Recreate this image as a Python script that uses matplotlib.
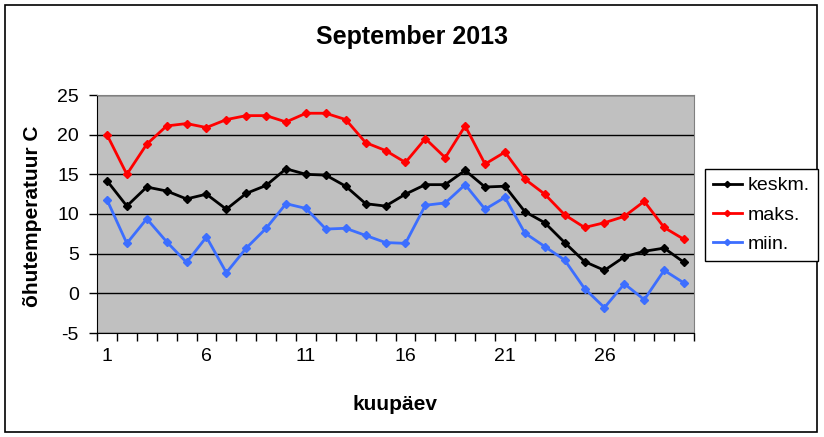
import matplotlib
matplotlib.use('Agg')
from matplotlib import pyplot as plt
from matplotlib.patches import Rectangle

plt.rcParams['font.family'] = ['Liberation Sans', 'DejaVu Sans']
plt.rcParams['axes.unicode_minus'] = False

# andmed (loetud pildilt)
days = list(range(1, 31))
keskm = [14.2, 11.0, 13.4, 12.9, 11.9, 12.5, 10.6, 12.6, 13.6, 15.7,
         15.0, 14.9, 13.5, 11.3, 11.0, 12.5, 13.7, 13.7, 15.5, 13.4,
         13.5, 10.3, 8.9, 6.4, 4.0, 2.9, 4.6, 5.3, 5.7, 3.9]
maks = [20.0, 15.0, 18.8, 21.1, 21.4, 20.9, 21.9, 22.4, 22.4, 21.6,
        22.7, 22.7, 21.9, 19.0, 18.0, 16.5, 19.5, 17.1, 21.1, 16.3,
        17.8, 14.4, 12.5, 9.9, 8.3, 8.9, 9.7, 11.6, 8.3, 6.8]
miin = [11.8, 6.3, 9.4, 6.5, 3.9, 7.1, 2.6, 5.7, 8.2, 11.3,
        10.7, 8.1, 8.2, 7.3, 6.4, 6.3, 11.1, 11.4, 13.7, 10.6,
        12.1, 7.6, 5.9, 4.2, 0.6, -1.8, 1.2, -0.8, 2.9, 1.3]
x_labels = ['1', '6', '11', '16', '21', '26']
y_ticks = [-5, 0, 5, 10, 15, 20, 25]

W, H = 824, 437
fig = plt.figure(figsize=(W / 100, H / 100), dpi=100)

# raam ümber terve pildi
fig.patches.append(Rectangle((5 / W, 5 / H), 812 / W, 427 / H, transform=fig.transFigure,
                             fill=False, edgecolor='black', linewidth=1.2))

ax = fig.add_axes([97 / W, (H - 333) / H, (694 - 97) / W, (333 - 95) / H])
ax.set_facecolor('#C0C0C0')

ax.plot(days, keskm, color='black', marker='D', markersize=4.5, linewidth=2, label='keskm.')
ax.plot(days, maks, color='#FF0000', marker='D', markersize=4.5, linewidth=2, label='maks.')
ax.plot(days, miin, color='#3C6EFF', marker='D', markersize=4.5, linewidth=2, label='miin.')

ax.set_xlim(0.5, 30.5)
ax.set_ylim(-5, 25)
ax.set_yticks(y_ticks)
ax.set_xticks([int(s) for s in x_labels])
ax.set_xticklabels(x_labels)
ax.set_xticks([i + 0.5 for i in range(31)], minor=True)
ax.tick_params(axis='x', which='major', length=0, pad=11, labelsize=14)
ax.tick_params(axis='x', which='minor', length=6, width=1, direction='out')
ax.tick_params(axis='y', length=6, width=1, direction='out', labelsize=14, pad=7)

ax.grid(axis='y', color='black', linewidth=1)
ax.set_axisbelow(True)
for s in ['top', 'right']:
    ax.spines[s].set_color('#808080')
for s in ['left', 'bottom']:
    ax.spines[s].set_color('black')

fig.text(412 / W, 1 - 37 / H, 'September 2013', ha='center', va='center',
         fontsize=18, fontweight='bold')
fig.text(395 / W, 1 - 404 / H, 'kuupäev', ha='center', va='center',
         fontsize=15, fontweight='bold')
fig.text(33 / W, 1 - 216 / H, 'õhutemperatuur C', ha='center', va='center',
         rotation=90, fontsize=15, fontweight='bold')

leg = fig.legend(loc='upper left', bbox_to_anchor=(705 / W, 1 - 169 / H), fontsize=14,
                 fancybox=False, framealpha=1, edgecolor='black', handlelength=1.5,
                 borderpad=0.4, labelspacing=0.6, handletextpad=0.3, borderaxespad=0,
                 markerscale=0.7)
leg.get_frame().set_linewidth(1)

fig.savefig('out.png', dpi=100)
